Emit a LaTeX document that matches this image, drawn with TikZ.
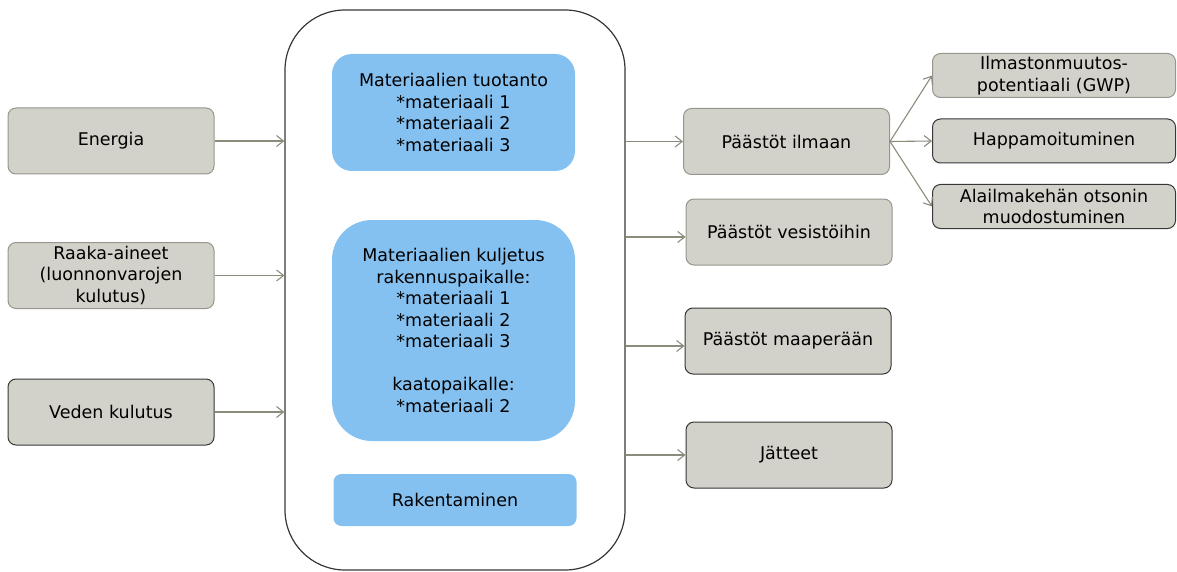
\documentclass[tikz,border=0pt]{standalone}
\usepackage{fontspec}
\setmainfont{DejaVu Sans}
\usetikzlibrary{arrows.meta}
\definecolor{boxgray}{RGB}{211,210,202}
\definecolor{edgegray}{RGB}{150,150,142}
\definecolor{edgedark}{RGB}{55,55,55}
\definecolor{flowgray}{RGB}{140,140,125}
\definecolor{taskblue}{RGB}{133,193,240}

\begin{document}
\begin{tikzpicture}[x=1pt,y=-1pt,
    font=\fontsize{17.5}{21.5}\selectfont,
    box/.style={draw=edgegray, line width=1pt, fill=boxgray, rounded corners=8pt,
      align=center, inner xsep=3pt, inner ysep=2pt, minimum width=206pt, minimum height=66pt},
    darkbox/.style={box, draw=edgedark},
    effect/.style={minimum width=243pt, minimum height=44pt},
    task/.style={fill=taskblue, align=center, minimum width=243pt},
    flow/.style={draw=flowgray, line width=1.1pt, -{Straight Barb[length=7pt,width=11pt]}}]
    \useasboundingbox (0,0) rectangle (1177,572);
    \node[draw=edgedark, line width=1.2pt, rounded corners=60pt,
      minimum width=340pt, minimum height=560pt] (phase) at (455,290) {};
    \node[task, minimum height=117pt, rounded corners=20pt] (tuotanto) at (453.5,112.5)
      {Materiaalien tuotanto\\*materiaali 1\\*materiaali 2\\*materiaali 3};
    \node[task, minimum height=221pt, rounded corners=40pt] (kuljetus) at (453.5,330.5)
      {Materiaalien kuljetus\\rakennuspaikalle:\\*materiaali 1\\*materiaali 2\\*materiaali 3\\[21.5pt]kaatopaikalle:\\*materiaali 2};
    \node[task, minimum height=52pt, rounded corners=8pt] (rakentaminen) at (455,500) {Rakentaminen};
    \node[box] (energia) at (111,141) {Energia};
    \node[box] (raaka) at (111,275.5) {Raaka-aineet\\(luonnonvarojen\\kulutus)};
    \node[darkbox] (veden) at (111,412) {Veden kulutus};
    \node[box] (ilmaan) at (786.5,141.5) {Päästöt ilmaan};
    \node[box] (vesi) at (789,232) {Päästöt vesistöihin};
    \node[darkbox] (maa) at (788,341) {Päästöt maaperään};
    \node[darkbox] (jatteet) at (789,455) {Jätteet};
    \node[box, effect] (gwp) at (1054,75.5) {Ilmastonmuutos-\\potentiaali (GWP)};
    \node[darkbox, effect] (happa) at (1054,141) {Happamoituminen};
    \node[darkbox, effect] (otsoni) at (1054,206.5) {Alailmakehän otsonin\\muodostuminen};
    \coordinate (vesiin) at ([yshift=-5pt]vesi.west);
    \coordinate (maahan) at ([yshift=-5pt]maa.west);
    \draw[flow] (energia) -- (energia -| phase.west);
    \draw[flow] (raaka) -- (raaka -| phase.west);
    \draw[flow] (veden) -- (veden -| phase.west);
    \draw[flow] (phase.east |- ilmaan) -- (ilmaan);
    \draw[flow] (phase.east |- vesiin) -- (vesiin);
    \draw[flow] (phase.east |- maahan) -- (maahan);
    \draw[flow] (phase.east |- jatteet) -- (jatteet);
    \draw[flow] (ilmaan.east) -- (gwp.west);
    \draw[flow] (ilmaan.east) -- (happa.west);
    \draw[flow] (ilmaan.east) -- (otsoni.west);
\end{tikzpicture}
\end{document}
